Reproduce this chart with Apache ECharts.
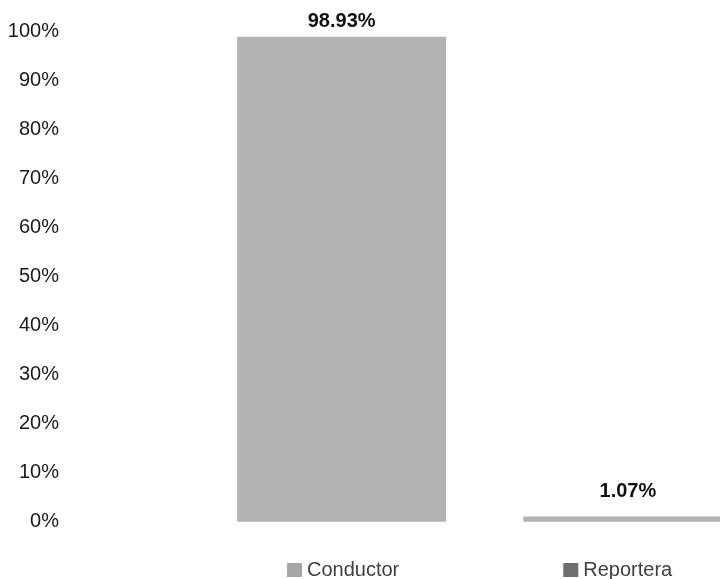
<!DOCTYPE html>
<html>
<head>
<meta charset="utf-8">
<script src="https://cdn.jsdelivr.net/npm/echarts@6/dist/echarts.min.js"></script>
<style>
html,body{margin:0;padding:0;background:#fff;overflow:hidden;width:720px;height:579px;}
#chart{width:771px;height:579px;}
</style>
</head>
<body>
<div id="chart"></div>
<script>
const categories = ['Conductor', 'Reportera'];
const conductorValues = [98.93, null];
const reporteraValues = [null, 1.07];
const yTicks = [0, 10, 20, 30, 40, 50, 60, 70, 80, 90, 100];

const FONT = '"Liberation Sans Narrow", "Arial Narrow", "Liberation Sans", Arial, sans-serif';
const BAR = '#b2b4b4';

const chart = echarts.init(document.getElementById('chart'), null, {renderer: 'canvas'});
chart.setOption({
  animation: false,
  backgroundColor: '#ffffff',
  textStyle: {fontFamily: FONT},
  grid: {left: 198.5, right: 0, top: 31.5, bottom: 57.3, containLabel: false},
  legend: {
    data: [
      {name: 'Conductor', itemStyle: {color: '#a6a6a6'}},
      {name: 'Reportera', itemStyle: {color: '#6d6e71'}}
    ],
    left: 287,
    top: 560,
    itemWidth: 15,
    itemHeight: 14,
    itemGap: 164,
    icon: 'rect',
    padding: 0,
    textStyle: {fontFamily: FONT, fontSize: 20, color: '#404040'}
  },
  xAxis: {
    type: 'category',
    data: categories,
    axisLine: {show: false},
    axisTick: {show: false},
    axisLabel: {show: false},
    splitLine: {show: false}
  },
  yAxis: {
    type: 'value',
    min: yTicks[0],
    max: yTicks[yTicks.length - 1],
    interval: 10,
    axisLine: {show: false},
    axisTick: {show: false},
    splitLine: {show: false},
    axisLabel: {
      margin: 139.5,
      fontFamily: FONT,
      fontSize: 20,
      color: '#1a1a1a',
      formatter: '{value}%'
    }
  },
  series: [
    {
      name: 'Conductor',
      type: 'bar',
      stack: 'all',
      barWidth: 209,
      itemStyle: {color: BAR},
      data: conductorValues.map(v => v === null ? null : {
        value: v,
        label: {distance: 5}
      }),
      label: {
        show: true,
        position: 'top',
        fontFamily: FONT,
        fontSize: 20,
        fontWeight: 'bold',
        color: '#111',
        formatter: p => p.value.toFixed(2) + '%'
      }
    },
    {
      name: 'Reportera',
      type: 'bar',
      stack: 'all',
      barWidth: 209,
      itemStyle: {color: BAR},
      data: reporteraValues.map(v => v === null ? null : {
        value: v,
        label: {distance: 14.5}
      }),
      label: {
        show: true,
        position: 'top',
        fontFamily: FONT,
        fontSize: 20,
        fontWeight: 'bold',
        color: '#111',
        formatter: p => p.value.toFixed(2) + '%'
      }
    }
  ]
});
</script>
</body>
</html>
